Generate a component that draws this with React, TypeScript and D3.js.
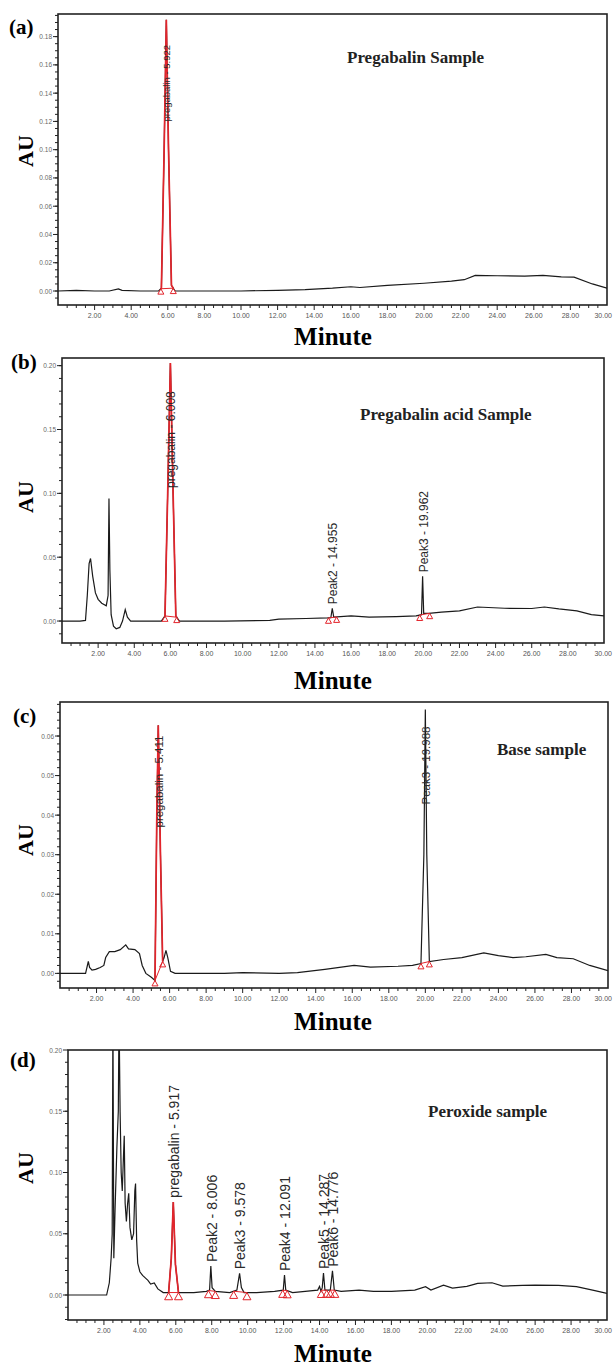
import React from "react";
import * as d3 from "d3";

// retention time axis (minutes)
const minuteTicks = [2, 4, 6, 8, 10, 12, 14, 16, 18, 20, 22, 24, 26, 28, 30];

// chromatogram traces: [minute, AU]
const traceA: [number, number][] = [
  [0, 0], [1.0, 0.0005], [2.0, 0], [2.8, 0], [3.3, 0.0015], [3.5, 0.0005], [4.5, 0], [5.5, 0],
  [5.65, 0.002], [5.8, 0.1], [5.92, 0.192], [6.04, 0.1], [6.2, 0.004], [6.4, 0], [8, 0], [10, 0],
  [12, 0.0005], [13.5, 0.001], [15, 0.002], [16, 0.003], [16.5, 0.0025], [18, 0.004], [20, 0.0055],
  [21.5, 0.007], [22.2, 0.008], [22.8, 0.011], [24, 0.0108], [25.5, 0.0105], [26.5, 0.011],
  [27.5, 0.01], [28.2, 0.0098], [29.2, 0.005], [30, 0.002],
];

const traceB: [number, number][] = [
  [0, 0], [1.0, 0], [1.3, 0.0005], [1.4, 0.02], [1.5, 0.045], [1.58, 0.049], [1.7, 0.035],
  [1.85, 0.022], [2.0, 0.017], [2.2, 0.014], [2.45, 0.012], [2.55, 0.02], [2.6, 0.096], [2.65, 0.04],
  [2.72, 0.005], [2.85, -0.004], [3.0, -0.006], [3.2, -0.005], [3.35, 0], [3.5, 0.009], [3.62, 0.003],
  [3.8, 0], [5.5, 0], [5.7, 0.004], [5.85, 0.1], [6.0, 0.202], [6.15, 0.1], [6.3, 0.004], [6.5, 0],
  [9, 0], [11.5, 0.0005], [12, 0.0015], [13.5, 0.002], [14.7, 0.0024], [14.88, 0.0026], [14.96, 0.01],
  [15.04, 0.003], [16, 0.004], [17, 0.003], [18.5, 0.0035], [19.6, 0.004], [19.9, 0.005],
  [19.96, 0.035], [20.02, 0.006], [20.3, 0.006], [21, 0.007], [22, 0.008], [23, 0.011], [24.5, 0.01],
  [26, 0.0098], [26.7, 0.011], [27.5, 0.0095], [28.5, 0.008], [29.3, 0.005], [30, 0.004],
];

const traceC: [number, number][] = [
  [0, 0], [1.4, 0], [1.55, 0.003], [1.62, 0.0015], [1.75, 0.0008], [1.95, 0.001], [2.2, 0.0015],
  [2.4, 0.002], [2.5, 0.004], [2.7, 0.0055], [3.0, 0.0055], [3.3, 0.006], [3.6, 0.0072], [3.75, 0.0062],
  [4.1, 0.006], [4.35, 0.005], [4.5, 0.002], [4.7, 0], [5.0, -0.001], [5.2, -0.0018], [5.3, 0.04],
  [5.38, 0.0627], [5.5, 0.03], [5.62, 0.003], [5.7, 0.004], [5.8, 0.0058], [5.9, 0.004], [6.05, 0.0005],
  [6.3, 0], [9, 0], [10, 0.0002], [12, 0], [13, 0.0002], [14.5, 0.001], [16.1, 0.002], [17, 0.0016],
  [18.5, 0.0018], [19.3, 0.002], [19.76, 0.0025], [19.92, 0.03], [20.0, 0.0667], [20.08, 0.03],
  [20.22, 0.003], [21, 0.0035], [22, 0.004], [23.2, 0.0052], [24, 0.0045], [24.8, 0.004], [25.5, 0.0042],
  [26.6, 0.0048], [27.2, 0.004], [28.1, 0.0037], [29, 0.002], [30, 0.0007],
];

const traceD: [number, number][] = [
  [0, 0], [1.5, 0], [2.15, 0], [2.3, 0.01], [2.4, 0.03], [2.46, 0.05], [2.5, 0.23], [2.55, 0.03],
  [2.62, 0.07], [2.72, 0.12], [2.8, 0.15], [2.84, 0.23], [2.9, 0.15], [2.96, 0.1], [3.02, 0.085],
  [3.08, 0.11], [3.13, 0.13], [3.18, 0.075], [3.25, 0.06], [3.32, 0.075], [3.38, 0.083], [3.45, 0.055],
  [3.55, 0.045], [3.65, 0.05], [3.72, 0.085], [3.76, 0.091], [3.82, 0.045], [3.88, 0.026], [4.0, 0.019],
  [4.15, 0.016], [4.3, 0.014], [4.45, 0.012], [4.6, 0.009], [4.8, 0.0098], [5.0, 0.005], [5.3, 0.002],
  [5.6, 0.002], [5.75, 0.03], [5.86, 0.076], [5.98, 0.025], [6.15, 0.002], [7, 0.002], [7.7, 0.003],
  [7.88, 0.004], [7.95, 0.0237], [8.02, 0.006], [8.2, 0.003], [9.0, 0.002], [9.4, 0.004], [9.55, 0.0177],
  [9.65, 0.006], [9.8, 0.002], [10.5, 0.002], [11.5, 0.003], [11.98, 0.004], [12.05, 0.0163],
  [12.12, 0.004], [12.5, 0.002], [13.2, 0.003], [13.9, 0.004], [14.0, 0.007], [14.08, 0.003],
  [14.15, 0.006], [14.22, 0.018], [14.3, 0.004], [14.6, 0.004], [14.72, 0.0198], [14.82, 0.004],
  [15.2, 0.003], [16.2, 0.004], [17, 0.003], [18, 0.003], [19.3, 0.004], [19.9, 0.0068], [20.2, 0.004],
  [20.9, 0.008], [21.4, 0.0057], [22.2, 0.007], [22.8, 0.0095], [23.6, 0.01], [24.2, 0.0073],
  [25.3, 0.0078], [26, 0.008], [27.3, 0.0078], [28.3, 0.0068], [29.2, 0.004], [30, 0.0014],
];

type Peak = { label: string; rt: number; start: number; end: number; main?: boolean };

const peaksA: Peak[] = [{ label: "pregabalin - 5.922", rt: 5.92, start: 5.62, end: 6.3, main: true }];
const peaksB: Peak[] = [
  { label: "pregabalin - 6.008", rt: 6.0, start: 5.7, end: 6.35, main: true },
  { label: "Peak2 - 14.955", rt: 14.96, start: 14.75, end: 15.2 },
  { label: "Peak3 - 19.962", rt: 19.96, start: 19.8, end: 20.35 },
];
const peaksC: Peak[] = [
  { label: "pregabalin - 5.411", rt: 5.38, start: 5.2, end: 5.62, main: true },
  { label: "Peak3 - 19.988", rt: 20.0, start: 19.76, end: 20.22 },
];
const peaksD: Peak[] = [
  { label: "pregabalin - 5.917", rt: 5.86, start: 5.6, end: 6.15, main: true },
  { label: "Peak2 - 8.006", rt: 7.95, start: 7.82, end: 8.2 },
  { label: "Peak3 - 9.578", rt: 9.55, start: 9.22, end: 9.96 },
  { label: "Peak4 - 12.091", rt: 12.05, start: 11.95, end: 12.2 },
  { label: "Peak5 - 14.287", rt: 14.22, start: 14.1, end: 14.4 },
  { label: "Peak6 - 14.776", rt: 14.72, start: 14.6, end: 14.85 },
];

const yTicksA = [0, 0.02, 0.04, 0.06, 0.08, 0.1, 0.12, 0.14, 0.16, 0.18];
const yTicksB = [0, 0.05, 0.1, 0.15, 0.2];
const yTicksC = [0, 0.01, 0.02, 0.03, 0.04, 0.05, 0.06];
const yTicksD = [0, 0.05, 0.1, 0.15, 0.2];

const SERIF = "'Times New Roman', 'Liberation Serif', serif";
const SANS = "Arial, 'Liberation Sans', sans-serif";
const RED = "#e3242b";

function interp(trace: [number, number][], t: number) {
  for (let i = 1; i < trace.length; i++) {
    const [t0, v0] = trace[i - 1];
    const [t1, v1] = trace[i];
    if (t >= t0 && t <= t1) return v0 + ((v1 - v0) * (t - t0)) / (t1 - t0);
  }
  return 0;
}

function Panel({ cfg }: { cfg: any }) {
  const { tag, box, yDomain, yTicks, yMinor, trace, peaks, title, titleX, titleY, labelSize, triSize } = cfg;
  const x = d3.scaleLinear().domain([0, 30]).range([box.l, box.r]);
  const y = d3.scaleLinear().domain(yDomain).range([box.b, box.t]);
  const line = d3.line<[number, number]>().x((d) => x(d[0])).y((d) => y(d[1]));
  const minorX = d3.range(0.5, 30, 0.5);
  const minorY = d3.range(Math.ceil(yDomain[0] / yMinor) * yMinor, yDomain[1], yMinor);
  const clipId = `clip-${tag}`;
  const tri = (cx: number, cy: number, s: number) =>
    `M${cx},${cy}L${cx + s / 2},${cy + s * 0.9}L${cx - s / 2},${cy + s * 0.9}Z`;

  return (
    <g>
      <defs>
        <clipPath id={clipId}>
          <rect x={box.l} y={box.t} width={box.r - box.l} height={box.b - box.t} />
        </clipPath>
      </defs>
      {/* minor + major ticks */}
      {minorX.map((t: number) => (
        <line key={"mx" + t} x1={x(t)} x2={x(t)} y1={box.b} y2={box.b + (t % 2 === 0 ? 5 : 3)} stroke="#222" strokeWidth={1} />
      ))}
      {minorY.map((v: number, i: number) => (
        <line key={"my" + i} x1={box.l - 3} x2={box.l} y1={y(v)} y2={y(v)} stroke="#222" strokeWidth={1} />
      ))}
      {yTicks.map((v: number) => (
        <g key={"yt" + v}>
          <line x1={box.l - 5} x2={box.l} y1={y(v)} y2={y(v)} stroke="#222" strokeWidth={1} />
          <text x={box.l - 6} y={y(v) + 2.5} fontSize={6.5} textAnchor="end" fill="#666" fontFamily={SANS}>
            {v.toFixed(2)}
          </text>
        </g>
      ))}
      {minuteTicks.map((t) => {
        const last = t === 30;
        return (
          <text key={"xt" + t} x={last ? 612 : x(t)} y={box.b + 13} fontSize={7} textAnchor={last ? "end" : "middle"} fill="#555" fontFamily={SANS}>
            {t.toFixed(2)}
          </text>
        );
      })}
      <rect x={box.l} y={box.t} width={box.r - box.l} height={box.b - box.t} fill="none" stroke="#222" strokeWidth={1.6} />

      <g clipPath={`url(#${clipId})`}>
        <path d={line(trace) || ""} fill="none" stroke="#1a1a1a" strokeWidth={1.2} />
        {peaks.map((p: Peak) => {
          const s: [number, number] = [p.start, interp(trace, p.start)];
          const e: [number, number] = [p.end, interp(trace, p.end)];
          const inner = trace.filter((d: [number, number]) => d[0] > p.start && d[0] < p.end);
          return (
            <g key={p.label}>
              {p.main && <path d={line([s, ...inner, e]) || ""} fill="none" stroke={RED} strokeWidth={1.7} />}
              <line x1={x(s[0])} y1={y(s[1])} x2={x(e[0])} y2={y(e[1])} stroke={RED} strokeWidth={1} />
              <path d={tri(x(s[0]), y(s[1]), triSize)} fill="none" stroke={RED} strokeWidth={1} />
              <path d={tri(x(e[0]), y(e[1]), triSize)} fill="none" stroke={RED} strokeWidth={1} />
            </g>
          );
        })}
      </g>

      {peaks.map((p: Peak) => {
        const apex = y(interp(trace, p.rt));
        const len = p.label.length * labelSize * 0.5;
        let start = apex - 4;
        if (start - len < box.t + 8) start = box.t + 22 + len;
        const lx = x(p.rt) + labelSize * 0.42;
        return (
          <text key={"lb" + p.label} transform={`translate(${lx},${start}) rotate(-90)`} fontSize={labelSize} fill="#2a2a2a" fontFamily={SANS}>
            {p.label}
          </text>
        );
      })}

      <text x={titleX} y={titleY} fontSize={17} fontWeight="bold" fontFamily={SERIF} fill="#222">{title}</text>
      <text x={cfg.tagX} y={cfg.tagY} fontSize={21} fontWeight="bold" fontFamily={SERIF}>{`(${tag})`}</text>
      <text transform={`translate(33,${cfg.auY}) rotate(-90)`} fontSize={22} fontWeight="bold" fontFamily={SERIF} textAnchor="middle">AU</text>
      <text x={333} y={cfg.minuteY} fontSize={25} fontWeight="bold" fontFamily={SERIF} textAnchor="middle">Minute</text>
    </g>
  );
}

const panels = [
  {
    tag: "a", box: { l: 58, t: 14, r: 607, b: 305 }, yDomain: [-0.0099, 0.196], yTicks: yTicksA, yMinor: 0.005,
    trace: traceA, peaks: peaksA, title: "Pregabalin Sample", titleX: 347, titleY: 63, labelSize: 9.5, triSize: 6,
    tagX: 9, tagY: 34, auY: 151, minuteY: 345,
  },
  {
    tag: "b", box: { l: 62, t: 358, r: 604, b: 643 }, yDomain: [-0.0172, 0.206], yTicks: yTicksB, yMinor: 0.01,
    trace: traceB, peaks: peaksB, title: "Pregabalin acid Sample", titleX: 360, titleY: 420, labelSize: 12, triSize: 6,
    tagX: 11, tagY: 369, auY: 497, minuteY: 689,
  },
  {
    tag: "c", box: { l: 60, t: 702, r: 608, b: 988 }, yDomain: [-0.0037, 0.0686], yTicks: yTicksC, yMinor: 0.002,
    trace: traceC, peaks: peaksC, title: "Base sample", titleX: 497, titleY: 755, labelSize: 11.5, triSize: 6,
    tagX: 13, tagY: 723, auY: 840, minuteY: 1030,
  },
  {
    tag: "d", box: { l: 68, t: 1050, r: 607, b: 1320 }, yDomain: [-0.0204, 0.2], yTicks: yTicksD, yMinor: 0.01,
    trace: traceD, peaks: peaksD, title: "Peroxide sample", titleX: 428, titleY: 1117, labelSize: 14, triSize: 8,
    tagX: 10, tagY: 1067, auY: 1168, minuteY: 1362,
  },
];

export default function App() {
  return (
    <svg width={613} height={1370} style={{ position: "absolute", left: 0, top: 0, background: "#fff" }}>
      {panels.map((p) => (
        <Panel key={p.tag} cfg={p} />
      ))}
    </svg>
  );
}
